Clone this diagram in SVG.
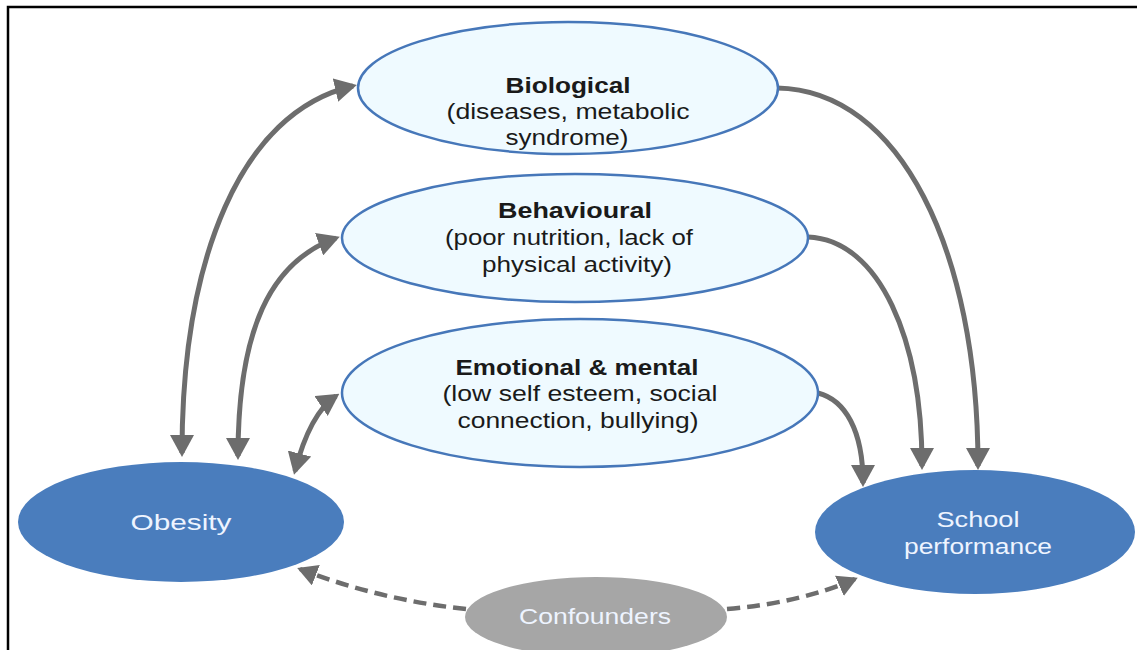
<svg xmlns="http://www.w3.org/2000/svg" width="1137" height="650" viewBox="0 0 1137 650">
<style>
.light{fill:#effaff;stroke:#4677b9;stroke-width:2.5}
.dark{fill:#4a7dbd}
.conf{fill:#a6a6a6}
text{font-family:"Liberation Sans",Arial,sans-serif;font-size:22px;text-anchor:middle}
.t{fill:#1a1a1a}
.b{font-weight:bold}
.w{fill:#eef4ff}
.arr{fill:none;stroke:#6d6d6d;stroke-width:5}
.dash{fill:none;stroke:#6d6d6d;stroke-width:4.5;stroke-dasharray:13 7}
</style>
<defs>
<marker id="ah" viewBox="0 0 22 24" refX="18" refY="12" markerWidth="22" markerHeight="24" markerUnits="userSpaceOnUse" orient="auto-start-reverse">
<path d="M0,0 L22,12 L0,24 z" fill="#6d6d6d"/>
</marker>
<marker id="ahs" viewBox="0 0 20 22" refX="17" refY="11" markerWidth="20" markerHeight="22" markerUnits="userSpaceOnUse" orient="auto">
<path d="M0,0 L20,11 L0,22 z" fill="#6d6d6d"/>
</marker>
</defs>
<rect width="1137" height="650" fill="#ffffff"/>
<path d="M8,650 L8,7 L1137,7" fill="none" stroke="#000" stroke-width="2.5"/>

<g id="connectors">
<path class="arr" d="M182,453 C182,260 240,112 353,86" marker-start="url(#ah)" marker-end="url(#ah)"/>
<path class="arr" d="M238,456 C238,330 270,262 336,238" marker-start="url(#ah)" marker-end="url(#ah)"/>
<path class="arr" d="M295,471 C303,440 315,410 336,396" marker-start="url(#ah)" marker-end="url(#ah)"/>
<path class="arr" d="M777,88 C900,90 978,250 978,466" marker-end="url(#ah)"/>
<path class="arr" d="M808,237 C880,240 922,340 922,466" marker-end="url(#ah)"/>
<path class="arr" d="M818,393 C845,400 863,430 863,483" marker-end="url(#ah)"/>
<path class="dash" d="M466,609 Q380,600 300,569" marker-end="url(#ahs)"/>
<path class="dash" d="M727,609 Q800,603 855,579" marker-end="url(#ahs)"/>
</g>

<g id="biological">
<ellipse class="light" cx="568" cy="88" rx="210" ry="66"/>
<text class="t b" x="568" y="93" textLength="125" lengthAdjust="spacingAndGlyphs">Biological</text>
<text class="t" x="568" y="119" textLength="243" lengthAdjust="spacingAndGlyphs">(diseases, metabolic</text>
<text class="t" x="567" y="145" textLength="123" lengthAdjust="spacingAndGlyphs">syndrome)</text>
</g>

<g id="behavioural">
<ellipse class="light" cx="575" cy="238" rx="233" ry="64"/>
<text class="t b" x="575" y="218" textLength="154" lengthAdjust="spacingAndGlyphs">Behavioural</text>
<text class="t" x="569" y="245" textLength="248" lengthAdjust="spacingAndGlyphs">(poor nutrition, lack of</text>
<text class="t" x="577" y="272" textLength="190" lengthAdjust="spacingAndGlyphs">physical activity)</text>
</g>

<g id="emotional">
<ellipse class="light" cx="580" cy="393" rx="238" ry="74"/>
<text class="t b" x="577" y="375" textLength="243" lengthAdjust="spacingAndGlyphs">Emotional &amp; mental</text>
<text class="t" x="580" y="401" textLength="275" lengthAdjust="spacingAndGlyphs">(low self esteem, social</text>
<text class="t" x="578" y="428" textLength="241" lengthAdjust="spacingAndGlyphs">connection, bullying)</text>
</g>

<g id="obesity">
<ellipse class="dark" cx="181" cy="522" rx="163" ry="60"/>
<text class="w" x="181" y="530" textLength="101" lengthAdjust="spacingAndGlyphs">Obesity</text>
</g>

<g id="school">
<ellipse class="dark" cx="975" cy="532" rx="160" ry="62"/>
<text class="w" x="978" y="527" textLength="83" lengthAdjust="spacingAndGlyphs">School</text>
<text class="w" x="978" y="554" textLength="148" lengthAdjust="spacingAndGlyphs">performance</text>
</g>

<g id="confounders">
<ellipse class="conf" cx="596" cy="617" rx="131" ry="40"/>
<text class="w" x="595" y="624" textLength="152" lengthAdjust="spacingAndGlyphs">Confounders</text>
</g>
</svg>
